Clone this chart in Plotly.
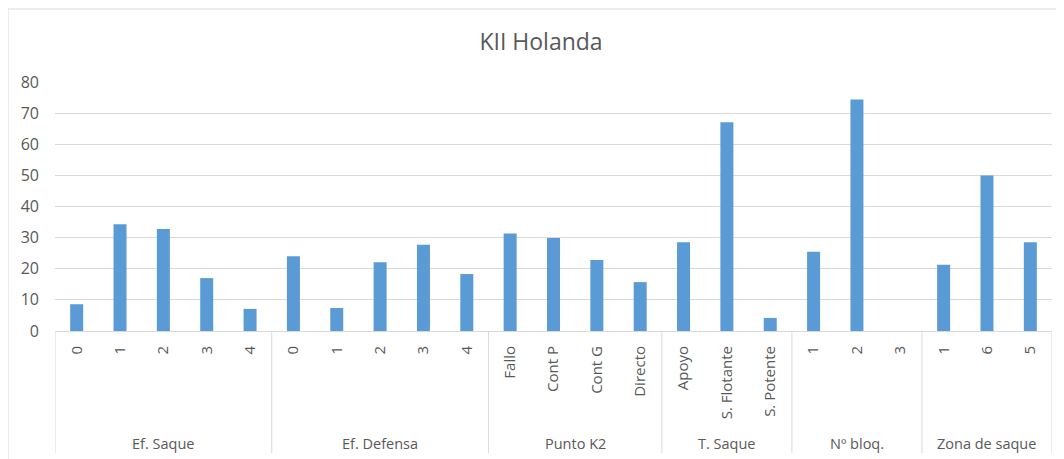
import plotly.graph_objects as go

groups = ["Ef. Saque", "Ef. Defensa", "Punto K2", "T. Saque", "Nº bloq.", "Zona de saque"]
group_labels = [
    ["0", "1", "2", "3", "4"],
    ["0", "1", "2", "3", "4"],
    ["Fallo", "Cont P", "Cont G", "Directo"],
    ["Apoyo", "S. Flotante", "S. Potente"],
    ["1", "2", "3"],
    ["1", "6", "5"],
]
group_values = [
    [8.6, 34.3, 32.8, 17.0, 7.1],
    [24.0, 7.4, 22.1, 27.7, 18.3],
    [31.3, 29.9, 22.8, 15.7],
    [28.5, 67.1, 4.2],
    [25.5, 74.4, 0],
    [21.3, 50.0, 28.5],
]
y_ticks = [0, 10, 20, 30, 40, 50, 60, 70, 80]

labels = [l for g in group_labels for l in g]
values = [v for g in group_values for v in g]
xs = list(range(len(labels)))

GRAY = "#595959"
LINE = "#D9D9D9"
FONT = "Open Sans"

fig = go.Figure(go.Bar(x=xs, y=values, width=0.3,
                       marker=dict(color="#5B9BD5", line=dict(width=0))))

shapes = []
annotations = []
start = 0
bounds = [-0.5]
for g, lab in zip(groups, group_labels):
    n = len(lab)
    center = start + (n - 1) / 2
    annotations.append(dict(x=center, y=-0.45, xref="x", yref="paper", text=g,
                            showarrow=False, font=dict(family=FONT, size=14.5, color=GRAY),
                            xanchor="center", yanchor="middle"))
    start += n
    bounds.append(start - 0.5)
for b in bounds:
    shapes.append(dict(type="line", xref="x", yref="paper", x0=b, x1=b, y0=0, y1=-0.49,
                       line=dict(color=LINE, width=1)))
# outer chart border
shapes.append(dict(type="rect", xref="paper", yref="paper",
                   x0=-47/997, x1=1.2, y0=1 + 73/249, y1=-1,
                   line=dict(color=LINE, width=1)))

# page body has an 8px margin, so the figure is 8px smaller than the window
fig.update_layout(
    width=1056, height=451, autosize=False,
    margin=dict(l=47, r=12, t=74, b=128),
    paper_bgcolor="white", plot_bgcolor="white",
    title=dict(text="KII Holanda", x=533/1056, xanchor="center", y=1 - 34/451, yanchor="middle",
               font=dict(family=FONT, size=23, color=GRAY)),
    showlegend=False,
    shapes=shapes,
    annotations=annotations,
    xaxis=dict(range=[-0.5, len(labels) - 0.5], tickmode="array", tickvals=xs, ticktext=labels,
               tickangle=-90, showgrid=False, zeroline=False, showline=True, linecolor=LINE,
               linewidth=1, ticks="", ticklabelstandoff=8,
               tickfont=dict(family=FONT, size=15, color=GRAY)),
    yaxis=dict(range=[0, 80], tickmode="array", tickvals=y_ticks, showgrid=True, gridcolor=LINE,
               gridwidth=1, zeroline=False, showline=False, ticks="", ticklabelstandoff=15,
               tickfont=dict(family=FONT, size=16, color=GRAY)),
)

fig.write_html("out.html")
